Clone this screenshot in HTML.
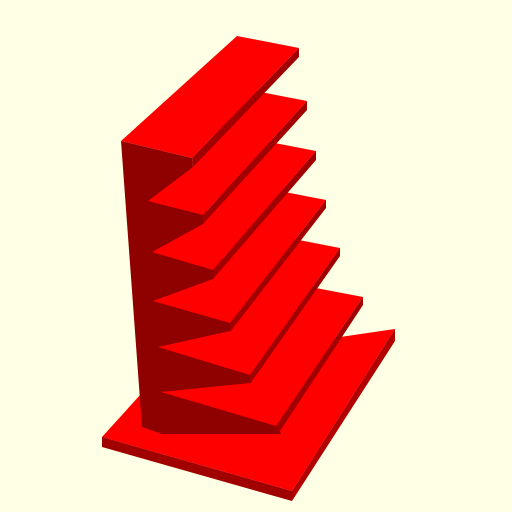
<!DOCTYPE html>
<html><head><meta charset="utf-8"><style>
html,body{margin:0;padding:0;background:#FFFFE5;}
svg{display:block;}
</style></head><body>
<svg width="512" height="512" viewBox="0 0 512 512" xmlns="http://www.w3.org/2000/svg">
<rect x="0" y="0" width="512" height="512" fill="#FFFFE5"/>
<g>
<polygon points="102,437 170,362 395,329 292,491" fill="#FF0000"/>
<polygon points="102,437 292,491 292,501 102,447" fill="#A00000"/>
<polygon points="292,491 395,329 395,341 292,501" fill="#B00000"/>
</g>
<polygon points="121,141 192,158 193,167 281,434 162,434 142,427" fill="#8F0000"/>
<g>
<polygon points="161,392 276,426 363,297 300,285 250,383" fill="#FF0000"/>
<polygon points="276,426 363,297 363,305 278,434" fill="#A00000"/>
</g>
<g>
<polygon points="158,347 250,375 340,248 278,236 230,331" fill="#FF0000"/>
<polygon points="250,375 340,248 340,256 250,384" fill="#A00000"/>
</g>
<g>
<polygon points="153,301 230,323 326,200 264,188 213,279" fill="#FF0000"/>
<polygon points="230,323 326,200 326,208 230,332" fill="#A00000"/>
</g>
<g>
<polygon points="152,252 213,270 316,151 254,139 203,224" fill="#FF0000"/>
<polygon points="213,270 316,151 316,160 213,279" fill="#A00000"/>
</g>
<g>
<polygon points="148,201 203,215 307,101 245,89 193,167" fill="#FF0000"/>
<polygon points="203,215 307,101 307,110 203,224" fill="#A00000"/>
</g>
<g>
<polygon points="121,141 237,36 299,48 192,158" fill="#FF0000"/>
<polygon points="192,158 299,48 299,57 193,167" fill="#A00000"/>
</g>
</svg>
</body></html>
